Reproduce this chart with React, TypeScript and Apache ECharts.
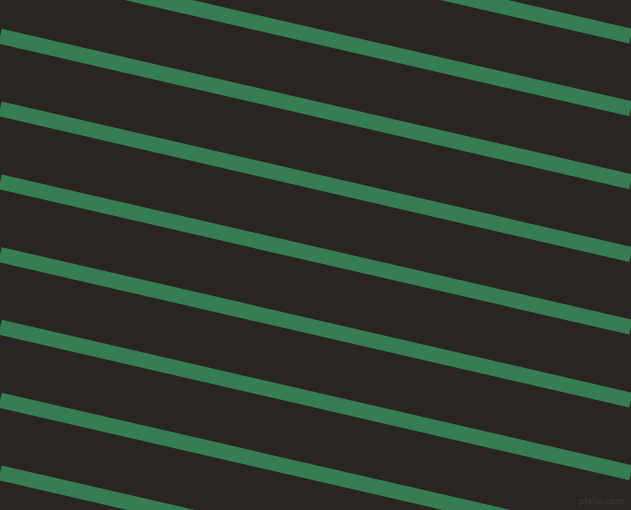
import React, { useEffect, useRef } from "react";
import * as echarts from "echarts";

// Stripe centre heights (px from top) at the left (x=0) and right (x=631) edges
const stripeLeftY = [-109.5, -36.5, 36.2, 108.8, 181.8, 254.6, 327.2, 400.2, 472.8];
const stripeRightY = [36.2, 108.8, 181.8, 254.6, 327.2, 400.2, 472.8, 545.5, 618.3];
const xRange = [0, 631];
const yRange = [0, 510];
const watermark = "pixlis.com";

export default function App() {
  const ref = useRef<HTMLDivElement>(null);
  useEffect(() => {
    document.body.style.margin = "0";
    const chart = echarts.init(ref.current!, undefined, { renderer: "svg" });
    const series = stripeLeftY.map((y0, i) => ({
      type: "line" as const,
      data: [
        [xRange[0], y0],
        [xRange[1], stripeRightY[i]],
      ],
      symbol: "none",
      silent: true,
      clip: true,
      lineStyle: { color: "#367d52", width: 15.2, cap: "butt" as const },
    }));
    chart.setOption({
      animation: false,
      backgroundColor: "#2a2522",
      grid: { left: 0, right: 0, top: 0, bottom: 0 },
      xAxis: { type: "value", min: xRange[0], max: xRange[1], show: false },
      yAxis: { type: "value", min: yRange[0], max: yRange[1], inverse: true, show: false },
      series,
      graphic: [
        {
          type: "text",
          right: 7,
          bottom: 5,
          style: {
            text: watermark,
            fill: "#3a3d38",
            font: "9px 'DejaVu Sans', sans-serif",
          },
        },
      ],
    });
    return () => chart.dispose();
  }, []);
  return (
    <div
      ref={ref}
      style={{ position: "fixed", left: 0, top: 0, width: 631, height: 510 }}
    />
  );
}
